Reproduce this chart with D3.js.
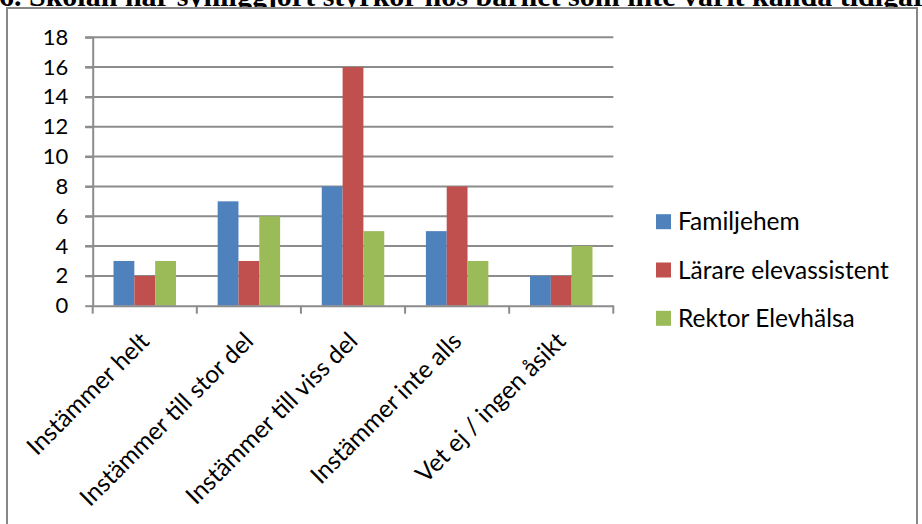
<!DOCTYPE html>
<html><head><meta charset="utf-8">
<script src="https://cdn.jsdelivr.net/npm/d3@7/dist/d3.min.js"></script>
<style>html,body{margin:0;padding:0;background:#fff;overflow:hidden}</style>
</head><body>
<script>
const title = "6. Skolan har synliggjort styrkor hos barnet som inte varit kända tidigare";
const categories = ["Instämmer helt","Instämmer till stor del","Instämmer till viss del","Instämmer inte alls","Vet ej / ingen åsikt"];
const seriesNames = ["Familjehem","Lärare elevassistent","Rektor Elevhälsa"];
const familjehem = [3,7,8,5,2];
const lararElevassistent = [2,3,16,8,2];
const rektorElevhalsa = [3,6,5,3,4];
const yTicks = [0,2,4,6,8,10,12,14,16,18];
const colors = ["#4F81BD","#C0504D","#9BBB59"];
const seriesValues = [familjehem, lararElevassistent, rektorElevhalsa];

const W = 922, H = 524;
const svg = d3.select("body").append("svg").attr("width", W).attr("height", H);
const font = "Lato, 'Open Sans', sans-serif";
const gridColor = "#8c8c8c";

// title (cropped at top)
svg.append("text").attr("x", -1).attr("y", 6)
  .attr("font-family", "'Liberation Serif', 'Times New Roman', serif")
  .attr("font-weight", "bold").attr("font-size", 30).attr("fill", "#000")
  .text(title);

// frame
svg.append("rect").attr("x", 7).attr("y", 8).attr("width", 910).attr("height", 530)
  .attr("fill", "#fff").attr("stroke", "#878787").attr("stroke-width", 2);

const plot = {left: 92.7, right: 613.3, top: 37.3, bottom: 305.7};
const x = d3.scaleBand().domain(categories).range([plot.left, plot.right]).paddingInner(0.4).paddingOuter(0.2);
const x0 = d3.scaleBand().domain(categories).range([plot.left, plot.right]);
const xs = d3.scaleBand().domain(seriesNames).range([0, x.bandwidth()]);
const y = d3.scaleLinear().domain([0, 18]).range([plot.bottom, plot.top]);

// gridlines
svg.append("g").selectAll("line").data(yTicks.filter(d => d > 0)).join("line")
  .attr("x1", plot.left - 7.5).attr("x2", plot.right)
  .attr("y1", d => y(d)).attr("y2", d => y(d))
  .attr("stroke", gridColor).attr("stroke-width", 2);

// y axis
const yAxis = svg.append("g").attr("transform", `translate(${plot.left},0)`)
  .call(d3.axisLeft(y).tickValues(yTicks).tickSize(7.5).tickPadding(17).tickSizeOuter(0));
yAxis.select(".domain").attr("stroke", gridColor).attr("stroke-width", 2);
yAxis.selectAll(".tick line").attr("stroke", gridColor).attr("stroke-width", 2);
yAxis.selectAll(".tick text").attr("font-family", font).attr("font-size", 22).attr("fill", "#000");

// bars
const groups = svg.append("g").selectAll("g").data(categories).join("g")
  .attr("transform", d => `translate(${x(d)},0)`);
groups.selectAll("rect").data((c, i) => seriesNames.map((s, j) => ({s, v: seriesValues[j][i], j})))
  .join("rect")
  .attr("x", d => xs(d.s)).attr("width", xs.bandwidth())
  .attr("y", d => y(d.v)).attr("height", d => y(0) - y(d.v))
  .attr("fill", d => colors[d.j]);

// x axis
const xAxis = svg.append("g").attr("transform", `translate(0,${plot.bottom})`)
  .call(d3.axisBottom(x0).tickValues([]).tickSizeOuter(0));
xAxis.select(".domain").attr("stroke", gridColor).attr("stroke-width", 2);
const boundaries = categories.map(c => x0(c)).concat([plot.right]);
xAxis.selectAll("line.bound").data(boundaries).join("line").attr("class", "bound")
  .attr("x1", d => d).attr("x2", d => d).attr("y1", 0).attr("y2", 8)
  .attr("stroke", gridColor).attr("stroke-width", 2);
xAxis.selectAll("text.lab").data(categories).join("text").attr("class", "lab")
  .attr("transform", d => `translate(${x0(d) + x0.bandwidth() / 2 + 6},37) rotate(-45)`)
  .attr("text-anchor", "end")
  .attr("font-family", font).attr("font-size", 24.5).attr("fill", "#000")
  .text(d => d);

// legend
const lg = svg.append("g").selectAll("g").data(seriesNames).join("g")
  .attr("transform", (d, i) => `translate(656,${221.7 + i * 48.3})`);
lg.append("rect").attr("x", 0).attr("y", -7.5).attr("width", 15).attr("height", 15)
  .attr("fill", (d, i) => colors[i]);
lg.append("text").attr("x", 22).attr("y", 8.5)
  .attr("font-family", font).attr("font-size", 24.5).attr("fill", "#000")
  .text(d => d);
</script>
</body></html>
